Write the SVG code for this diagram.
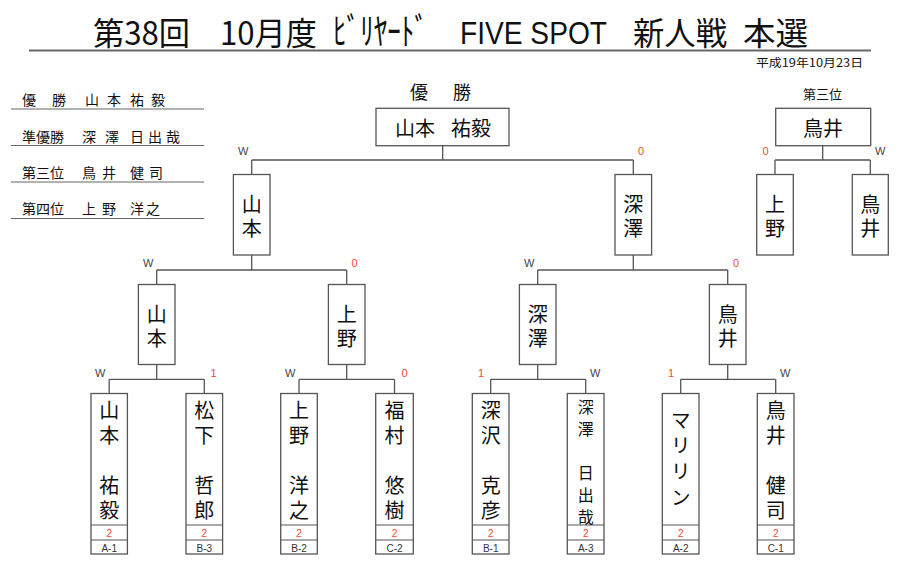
<svg xmlns="http://www.w3.org/2000/svg" width="900" height="568" viewBox="0 0 900 568">
<style>
.bg{fill:#fff}
.jp{font-family:"Noto Sans CJK JP","Noto Sans",sans-serif;fill:#111}
.ttl{font-size:32px}
.ttlL{font-family:"Liberation Sans",Arial,sans-serif;font-size:31px;fill:#111}
.lst{font-size:14px}
.vt{font-size:20px;writing-mode:vertical-rl;text-orientation:upright;letter-spacing:4px}
.vt16{font-size:16px;writing-mode:vertical-rl;text-orientation:upright;letter-spacing:6px}
.box{fill:#fff;stroke:#555;stroke-width:1.3}
.sep{stroke:#555;stroke-width:1.1;fill:none}
.ln{stroke:#555;stroke-width:1.3;fill:none}
.uline{stroke:#666;stroke-width:1.2}
.lbl{font-family:"Liberation Sans",Arial,sans-serif;font-size:11px;fill:#444}
.red{font-family:"Liberation Sans",Arial,sans-serif;font-size:11px;fill:#f04a32}
.sc{font-family:"Liberation Sans",Arial,sans-serif;font-size:10px;fill:#f04a32;text-anchor:middle}
.cd{font-family:"Liberation Sans",Arial,sans-serif;font-size:10px;fill:#333;text-anchor:middle}
</style>
<rect class="bg" x="0" y="0" width="900" height="568"/>

<g id="title">
<text class="jp ttl" x="93" y="44.5" textLength="97" lengthAdjust="spacingAndGlyphs">第38回</text>
<text class="jp ttl" x="220" y="44.5" textLength="97" lengthAdjust="spacingAndGlyphs">10月度</text>
<text class="jp" x="333" y="44.5" font-size="37" textLength="95" lengthAdjust="spacingAndGlyphs">ﾋﾞﾘﾔｰﾄﾞ</text>
<text class="ttlL" x="460" y="44" textLength="147" lengthAdjust="spacingAndGlyphs">FIVE SPOT</text>
<text class="jp ttl" x="633" y="44.5" textLength="94" lengthAdjust="spacingAndGlyphs">新人戦</text>
<text class="jp ttl" x="743" y="44.5" textLength="65" lengthAdjust="spacingAndGlyphs">本選</text>
<line x1="29" y1="50.5" x2="871" y2="50.5" stroke="#666" stroke-width="2"/>
<text class="jp" x="756" y="66.5" font-size="11.5" textLength="107" lengthAdjust="spacingAndGlyphs">平成19年10月23日</text>
</g>

<g id="results">
<text class="jp lst" x="22" y="105">優</text>
<text class="jp lst" x="52" y="105">勝</text>
<text class="jp lst" x="85" y="105" textLength="36" lengthAdjust="spacing">山本</text>
<text class="jp lst" x="130" y="105" textLength="35" lengthAdjust="spacing">祐毅</text>
<line class="uline" x1="11" y1="109" x2="204" y2="109"/>
<text class="jp lst" x="22" y="141.5" textLength="42" lengthAdjust="spacing">準優勝</text>
<text class="jp lst" x="82" y="141.5" textLength="37" lengthAdjust="spacing">深澤</text>
<text class="jp lst" x="130" y="141.5" textLength="50" lengthAdjust="spacing">日出哉</text>
<line class="uline" x1="11" y1="145.5" x2="204" y2="145.5"/>
<text class="jp lst" x="22" y="178" textLength="42" lengthAdjust="spacing">第三位</text>
<text class="jp lst" x="82" y="178" textLength="34" lengthAdjust="spacing">鳥井</text>
<text class="jp lst" x="130" y="178" textLength="33" lengthAdjust="spacing">健司</text>
<line class="uline" x1="11" y1="182" x2="204" y2="182"/>
<text class="jp lst" x="22" y="214" textLength="42" lengthAdjust="spacing">第四位</text>
<text class="jp lst" x="82" y="214" textLength="34" lengthAdjust="spacing">上野</text>
<text class="jp lst" x="130" y="214" textLength="30" lengthAdjust="spacing">洋之</text>
<line class="uline" x1="11" y1="218.5" x2="204" y2="218.5"/>
</g>

<g id="connectors">
<path class="ln" d="M442.7 145.7V160M251.7 160H633.3M251.7 160V174.5M633.3 160V174.5"/>
<path class="ln" d="M251.7 255V270M156.7 270H346.7M156.7 270V284.5M346.7 270V284.5"/>
<path class="ln" d="M633.3 255V270M537.7 270H727.7M537.7 270V284.5M727.7 270V284.5"/>
<path class="ln" d="M156.7 364.5V379.3M109.2 379.3H204.3M109.2 379.3V393.5M204.3 379.3V393.5"/>
<path class="ln" d="M346.7 364.5V379.3M299 379.3H394.5M299 379.3V393.5M394.5 379.3V393.5"/>
<path class="ln" d="M537.7 364.5V379.3M490.7 379.3H585.7M490.7 379.3V393.5M585.7 379.3V393.5"/>
<path class="ln" d="M727.7 364.5V379.3M680.7 379.3H775.7M680.7 379.3V393.5M775.7 379.3V393.5"/>
<path class="ln" d="M822.7 145.7V160M775 160H870.3M775 160V174.5M870.3 160V174.5"/>
</g>

<g id="marks">
<text class="lbl" x="238" y="155">W</text>
<text class="red" x="638" y="155">0</text>
<text class="lbl" x="143" y="267">W</text>
<text class="red" x="351.5" y="267">0</text>
<text class="lbl" x="524" y="267">W</text>
<text class="red" x="733" y="267">0</text>
<text class="lbl" x="95" y="376.5">W</text>
<text class="red" x="210.5" y="376.5">1</text>
<text class="lbl" x="285" y="376.5">W</text>
<text class="red" x="401.5" y="376.5">0</text>
<text class="red" x="478" y="376.5">1</text>
<text class="lbl" x="590" y="376.5">W</text>
<text class="red" x="668" y="376.5">1</text>
<text class="lbl" x="780" y="376.5">W</text>
<text class="red" x="762.5" y="155">0</text>
<text class="lbl" x="875" y="155">W</text>
</g>

<g id="final">
<text class="jp" x="410" y="99" font-size="18">優</text>
<text class="jp" x="453" y="99" font-size="18">勝</text>
<rect class="box" x="376" y="108.3" width="133" height="37.4"/>
<text class="jp" x="395" y="136" font-size="20">山本</text>
<text class="jp" x="451" y="136" font-size="20">祐毅</text>
</g>

<g id="third">
<text class="jp" x="822.5" y="99" font-size="13" text-anchor="middle">第三位</text>
<rect class="box" x="775.7" y="108.3" width="95" height="37.4"/>
<text class="jp" x="823" y="136" font-size="20" text-anchor="middle">鳥井</text>
</g>

<g id="semi-l">
<rect class="box" x="233.4" y="174.5" width="36.6" height="80.5"/>
<text class="jp vt" x="251.7" y="194">山本</text>
</g>
<g id="semi-r">
<rect class="box" x="615" y="174.5" width="36.6" height="80.5"/>
<text class="jp vt" x="633.3" y="194">深澤</text>
</g>
<g id="third-l">
<rect class="box" x="756.7" y="174.5" width="36.6" height="80.5"/>
<text class="jp vt" x="775" y="194">上野</text>
</g>
<g id="third-r">
<rect class="box" x="852.3" y="174.5" width="36" height="80.5"/>
<text class="jp vt" x="870.3" y="194">鳥井</text>
</g>

<g id="q1">
<rect class="box" x="138.4" y="284.5" width="36.6" height="80"/>
<text class="jp vt" x="156.7" y="304">山本</text>
</g>
<g id="q2">
<rect class="box" x="328.4" y="284.5" width="36.6" height="80"/>
<text class="jp vt" x="346.7" y="304">上野</text>
</g>
<g id="q3">
<rect class="box" x="519.4" y="284.5" width="36.6" height="80"/>
<text class="jp vt" x="537.7" y="304">深澤</text>
</g>
<g id="q4">
<rect class="box" x="709.4" y="284.5" width="36.6" height="80"/>
<text class="jp vt" x="727.7" y="304">鳥井</text>
</g>

<g id="p1">
<rect class="box" x="91" y="393.5" width="36.4" height="160.5"/>
<path class="sep" d="M91 525H127.4M91 540H127.4"/>
<text class="jp vt" x="109.2" y="400" style="letter-spacing:5px">山本　祐毅</text>
<text class="sc" x="109.2" y="536.5">2</text>
<text class="cd" x="109.2" y="552">A-1</text>
</g>
<g id="p2">
<rect class="box" x="186" y="393.5" width="36.6" height="160.5"/>
<path class="sep" d="M186 525H222.6M186 540H222.6"/>
<text class="jp vt" x="204.3" y="400" style="letter-spacing:5px">松下　哲郎</text>
<text class="sc" x="204.3" y="536.5">2</text>
<text class="cd" x="204.3" y="552">B-3</text>
</g>
<g id="p3">
<rect class="box" x="280.7" y="393.5" width="36.6" height="160.5"/>
<path class="sep" d="M280.7 525H317.3M280.7 540H317.3"/>
<text class="jp vt" x="299" y="400" style="letter-spacing:5px">上野　洋之</text>
<text class="sc" x="299" y="536.5">2</text>
<text class="cd" x="299" y="552">B-2</text>
</g>
<g id="p4">
<rect class="box" x="375.7" y="393.5" width="37.6" height="160.5"/>
<path class="sep" d="M375.7 525H413.3M375.7 540H413.3"/>
<text class="jp vt" x="394.5" y="400" style="letter-spacing:5px">福村　悠樹</text>
<text class="sc" x="394.5" y="536.5">2</text>
<text class="cd" x="394.5" y="552">C-2</text>
</g>
<g id="p5">
<rect class="box" x="472.3" y="393.5" width="36.7" height="160.5"/>
<path class="sep" d="M472.3 525H509M472.3 540H509"/>
<text class="jp vt" x="490.7" y="400" style="letter-spacing:5px">深沢　克彦</text>
<text class="sc" x="490.7" y="536.5">2</text>
<text class="cd" x="490.7" y="552">B-1</text>
</g>
<g id="p6">
<rect class="box" x="567.3" y="393.5" width="36.7" height="160.5"/>
<path class="sep" d="M567.3 525H604M567.3 540H604"/>
<text class="jp vt16" x="585.7" y="398.5">深澤　日出哉</text>
<text class="sc" x="585.7" y="536.5">2</text>
<text class="cd" x="585.7" y="552">A-3</text>
</g>
<g id="p7">
<rect class="box" x="662.3" y="393.5" width="36.7" height="160.5"/>
<path class="sep" d="M662.3 525H699M662.3 540H699"/>
<text class="jp vt" x="680.7" y="410" style="letter-spacing:5.7px">マリリン</text>
<text class="sc" x="680.7" y="536.5">2</text>
<text class="cd" x="680.7" y="552">A-2</text>
</g>
<g id="p8">
<rect class="box" x="757.3" y="393.5" width="36.7" height="160.5"/>
<path class="sep" d="M757.3 525H794M757.3 540H794"/>
<text class="jp vt" x="775.7" y="400" style="letter-spacing:5px">鳥井　健司</text>
<text class="sc" x="775.7" y="536.5">2</text>
<text class="cd" x="775.7" y="552">C-1</text>
</g>
</svg>
